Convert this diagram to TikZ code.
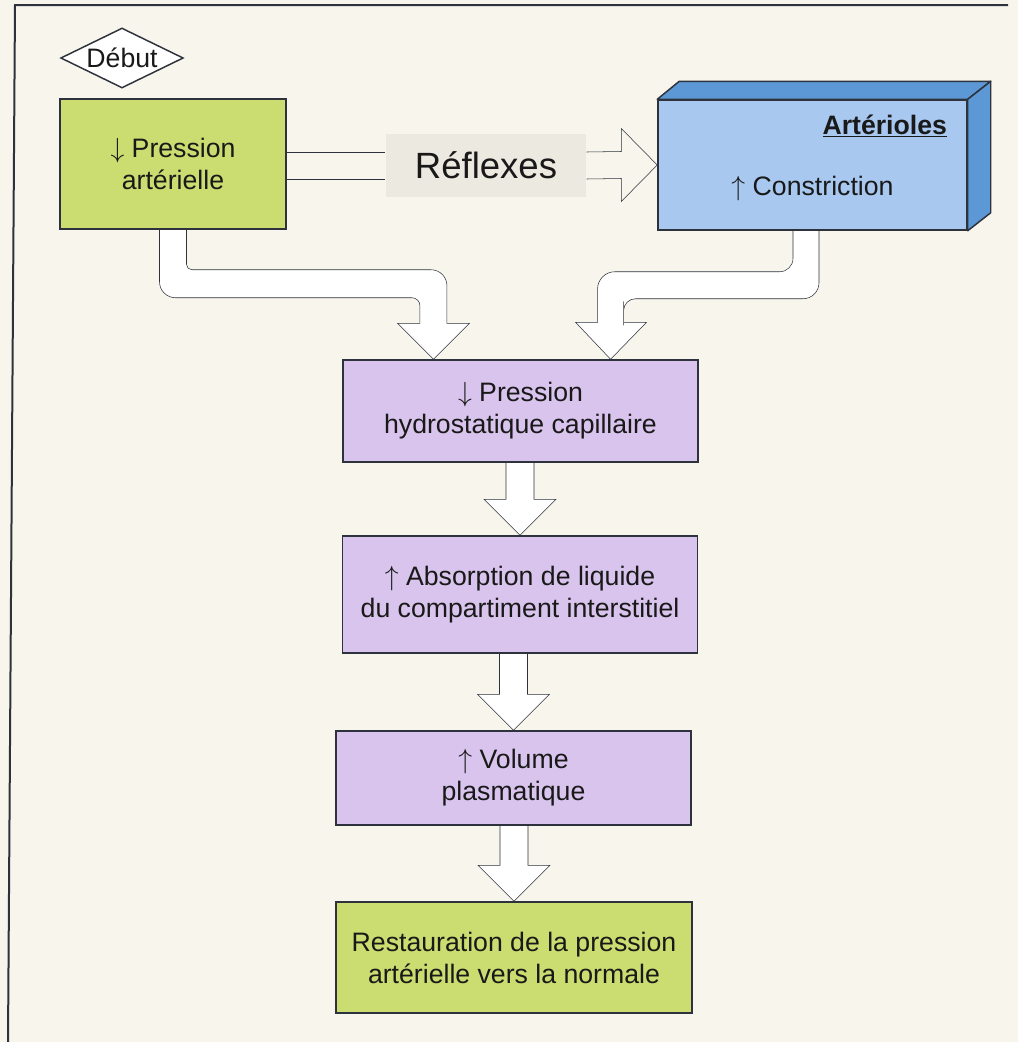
\documentclass[tikz,border=0pt]{standalone}
\usepackage{fontspec}
\setmainfont{Liberation Sans}
\usetikzlibrary{calc,positioning,shapes,backgrounds}

\definecolor{fond}{RGB}{248,245,236}
\definecolor{trait}{RGB}{45,50,60}
\definecolor{encre}{RGB}{25,25,25}
\definecolor{vert}{RGB}{203,220,112}
\definecolor{mauve}{RGB}{216,196,236}
\definecolor{bleu}{RGB}{168,200,240}
\definecolor{bleufonce}{RGB}{92,152,214}
\definecolor{gris}{RGB}{236,233,224}
\newcommand\taille{\fontsize{20}{24}\selectfont}

\begin{document}
\begin{tikzpicture}[x=0.75pt,y=-0.75pt,inner sep=0mm,line width=1.1pt,
  boite/.style={draw=trait,align=center,font=\taille,text=encre},
  verte/.style={boite,fill=vert},
  violette/.style={boite,fill=mauve,minimum width=266pt},
  fleche/.style={draw=trait,fill=white,line join=miter}]
\useasboundingbox (0,0) rectangle (1018,1042);
% boxes
\node at (122,58) [diamond,draw=trait,fill=white,aspect=2,minimum width=92pt,minimum height=45pt,font=\taille,text=encre] (debut) {Début};
\node at (173,164) [verte,minimum width=169.5pt,minimum height=97.5pt] (pa) {$\downarrow$ Pression\\artérielle};
\node at (486,165.5) [fill=gris,minimum width=150pt,minimum height=47.25pt,font=\fontsize{27.4}{30}\selectfont,text=encre] (reflexes) {Réflexes};
\node at (812.5,165) [boite,fill=bleu,minimum width=231.75pt,minimum height=97.5pt] (art) {};
\filldraw[fill=bleufonce,draw=trait,line join=round] (art.north west) -- ++(22,-18) -- ($(art.north east)+(23,-18)$) -- (art.north east) -- cycle;
\filldraw[fill=bleufonce,draw=trait,line join=round] (art.north east) -- ++(23,-18) -- ($(art.south east)+(23,-18)$) -- (art.south east) -- cycle;
\node at ($(art.north east)+(-20,35)$) [anchor=base east,font=\taille\bfseries,text=encre] (arttitre) {\underline{Artérioles}};
\node at ($(art.north)+(0,96)$) [anchor=base,font=\taille,text=encre] (artconstr) {$\uparrow$ Constriction};
\node at (520.5,411) [violette,minimum height=76.5pt] (phc) {$\downarrow$ Pression\\hydrostatique capillaire};
\node at (520,594.5) [violette,minimum height=87.75pt] (abs) {$\uparrow$ Absorption de liquide\\du compartiment interstitiel};
\node at (513.5,778) [violette,minimum height=70.5pt] (vol) {$\uparrow$ Volume\\plasmatique};
\node at (514,957.5) [verte,minimum width=267pt,minimum height=83.25pt] (rest) {Restauration de la pression\\artérielle vers la normale};

\begin{scope}[on background layer]
\fill[fond] (0,0) rectangle (1018,1042);
\draw[trait,line width=1.5pt] (8,1042) -- (15,5) -- (1008,5);
% reflexes
\coordinate (r1) at ($(reflexes.west)+(0,-13.5)$);
\coordinate (r2) at ($(reflexes.west)+(0,13.5)$);
\draw[trait] (r1 -| pa.east) -- (r1);
\draw[trait] (r2 -| pa.east) -- (r2);
\draw[trait,line join=miter] ($(reflexes.east)+(0,-13.5)$) -- ($(art.west)+(-36,-13.5)$) -- ($(art.west)+(-36,-36.5)$) -- (art.west)
  -- ($(art.west)+(-36,36.5)$) -- ($(art.west)+(-36,13.5)$) -- ($(reflexes.east)+(0,13.5)$);
% bent arrows
\coordinate (tipl) at ($(phc.north west)+(91,0)$);
\coordinate (tipr) at ($(phc.north east)+(-88,0)$);
\coordinate (sl) at (pa.south);
\coordinate (bl) at ($(sl)+(0,54)$);
\coordinate (cl) at (bl -| tipl);
\draw[fleche] ($(sl)+(-13.5,0)$)
  [rounded corners=12pt] -- ($(bl)+(-13.5,14)$) -- ($(bl)!0.5!(cl)+(0,14)$)
  [rounded corners=6pt] -- ($(cl)+(-13.5,14)$) -- ($(tipl)+(-13.5,-46)$)
  [sharp corners] -- ($(tipl)+(-13.5,-36)$) -- ($(tipl)+(-36,-36)$) -- (tipl) -- ($(tipl)+(36,-36)$) -- ($(tipl)+(13.5,-36)$) -- ($(tipl)+(13.5,-46)$)
  [rounded corners=12pt] -- ($(cl)+(13.5,-14)$) -- ($(bl)!0.5!(cl)+(0,-14)$)
  [rounded corners=4pt] -- ($(bl)+(13.5,-14)$) -- ($(sl)+(13.5,10)$)
  [sharp corners] -- ($(sl)+(13.5,0)$);
\coordinate (sr) at ($(art.south)+(-6.5,0)$);
\coordinate (br) at ($(sr)+(0,54.5)$);
\coordinate (cr) at (br -| tipr);
\draw[fleche] ($(sr)+(13,0)$)
  [rounded corners=12pt] -- ($(br)+(13,13.5)$) -- ($(br)!0.5!(cr)+(0,13.5)$)
  [rounded corners=9pt] -- ($(cr)+(13,13.5)$) -- ($(tipr)+(13,-46)$)
  [sharp corners] -- ($(tipr)+(13,-37)$) -- ($(tipr)+(36,-37)$) -- (tipr) -- ($(tipr)+(-35,-37)$) -- ($(tipr)+(-13,-37)$) -- ($(tipr)+(-13,-46)$)
  [rounded corners=13pt] -- ($(cr)+(-13,-13.5)$) -- ($(br)!0.5!(cr)+(0,-13.5)$)
  [rounded corners=10pt] -- ($(br)+(-13,-13.5)$) -- ($(sr)+(-13,10)$)
  [sharp corners] -- ($(sr)+(-13,0)$);
% straight arrows
\foreach \a/\b in {phc/abs,abs/vol,vol/rest}{
  \coordinate (h) at (\a.south -| \b.north);
  \draw[fleche] ($(h)+(-14,0)$) -- ($(\b.north)+(-14,-36)$) -- ($(\b.north)+(-36,-36)$) -- (\b.north)
    -- ($(\b.north)+(36,-36)$) -- ($(\b.north)+(14,-36)$) -- ($(h)+(14,0)$);
}
\end{scope}
\end{tikzpicture}
\end{document}
